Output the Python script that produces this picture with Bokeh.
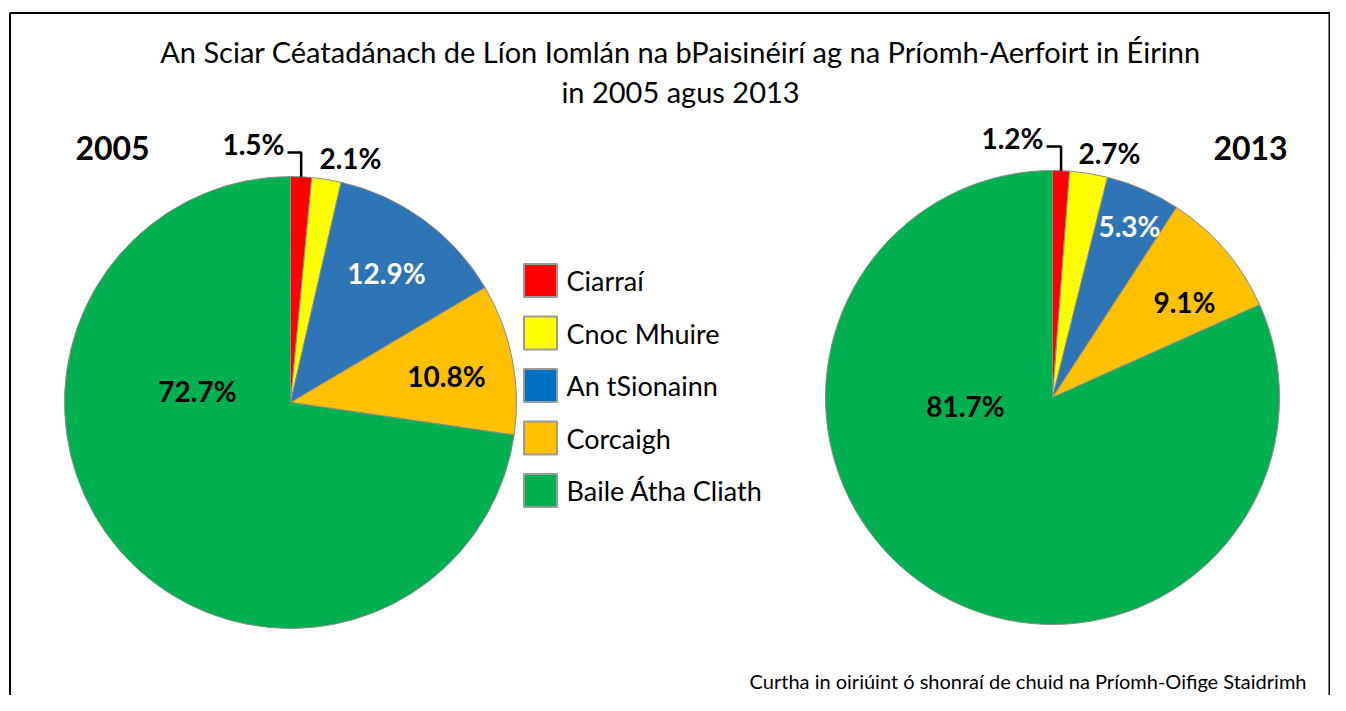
import numpy as np
from bokeh.plotting import figure
from bokeh.models import ColumnDataSource, Range1d
from bokeh.core.properties import value
from bokeh.embed import file_html
from bokeh.resources import INLINE

# ---------------- data ----------------
categories = ["Ciarraí", "Cnoc Mhuire", "An tSionainn", "Corcaigh", "Baile Átha Cliath"]
share_2005 = [1.5, 2.1, 12.9, 10.8, 72.7]
share_2013 = [1.2, 2.7, 5.3, 9.1, 81.7]
years = ["2005", "2013"]
title_lines = ["An Sciar Céatadánach de Líon Iomlán na bPaisinéirí ag na Príomh-Aerfoirt in Éirinn",
               "in 2005 agus 2013"]
source_note = "Curtha in oiriúint ó shonraí de chuid na Príomh-Oifige Staidrimh"

# ---------------- styles / layout ----------------
slice_colors = ["#FF0000", "#FFFF00", "#2E75B6", "#FFC000", "#00B050"]
legend_colors = ["#FF0000", "#FFFF00", "#0070C0", "#FFC000", "#00B050"]
label_colors = ["black", "black", "white", "black", "black"]
FONT = "Lato"
W, H = 1330, 695


def Y(img_y):
    # convert a screen-pixel y (from top) into data y
    return H - img_y


p = figure(width=W, height=H, x_range=Range1d(0, W), y_range=Range1d(0, H),
           output_backend="svg", toolbar_location=None, min_border=0)
p.axis.visible = False
p.grid.visible = False
p.outline_line_color = None
p.background_fill_color = "white"

# frame
p.line(x=[9.5, 9.5, 1329, 1329], y=[Y(720), Y(12.5), Y(12.5), Y(720)],
       line_color="black", line_width=2)

# pies: center (screen px), radius, label offsets (screen px relative to center)
pies = [
    dict(vals=share_2005, cx=290, cy=402, r=226, year_pos=(112, 147),
         offsets=[(-37, -259), (60, -245), (96, -130), (156, -27), (-93, -12)]),
    dict(vals=share_2013, cx=1052, cy=397, r=227, year_pos=(1250, 147),
         offsets=[(-40, -260), (57, -245), (77, -172), (132, -96), (-87, 8)]),
]

for pie, yr in zip(pies, years):
    vals = np.array(pie["vals"], dtype=float)
    frac = vals / vals.sum()
    cum = np.concatenate([[0], np.cumsum(frac)])
    start = np.pi / 2 - 2 * np.pi * cum[:-1]
    end = np.pi / 2 - 2 * np.pi * cum[1:]
    src = ColumnDataSource(dict(start=start, end=end, color=slice_colors,
                                cat=categories, val=vals))
    p.wedge(x=pie["cx"], y=Y(pie["cy"]), radius=pie["r"], start_angle="start", end_angle="end",
            direction="clock", fill_color="color", line_color="#8C8C8C", line_width=1, source=src)

    # labels
    lx = [pie["cx"] + dx for dx, dy in pie["offsets"]]
    ly = [Y(pie["cy"] + dy) for dx, dy in pie["offsets"]]
    txt = [f"{v:.1f}%" for v in vals]
    lsrc = ColumnDataSource(dict(x=lx, y=ly, t=txt, c=label_colors))
    p.text(x="x", y="y", text="t", text_color="c", source=lsrc, text_font=value(FONT),
           text_font_style="bold", text_font_size="28px", text_align="center",
           text_baseline="middle")

    # leader line for the first (small) slice
    mid = 2 * np.pi * (cum[0] + cum[1]) / 2
    ex = pie["cx"] + pie["r"] * np.sin(mid)
    ey_img = pie["cy"] - pie["r"] * np.cos(mid)
    elbow_img = pie["cy"] + pie["offsets"][0][1] + 9
    p.line(x=[lx[0] + 34, ex, ex], y=[Y(elbow_img), Y(elbow_img), Y(ey_img)],
           line_color="black", line_width=2.5)

    # year label
    p.text(x=[pie["year_pos"][0]], y=[Y(pie["year_pos"][1])], text=[yr], text_font=value(FONT),
           text_font_style="bold", text_font_size="32px", text_align="center",
           text_baseline="middle", text_color="black")

# legend
leg_y = [Y(280 + 52.5 * i) for i in range(len(categories))]
p.rect(x=[540] * len(categories), y=leg_y, width=33, height=33, fill_color=legend_colors,
       line_color="#9A9A9A", line_width=2)
p.text(x=[566] * len(categories), y=leg_y, text=categories, text_font=value(FONT),
       text_font_size="27px", text_align="left", text_baseline="middle", text_color="black")

# title
p.text(x=[680, 680], y=[Y(51), Y(91)], text=title_lines, text_font=value(FONT),
       text_font_size="29px", text_align="center", text_baseline="middle", text_color="black")

# source note
p.text(x=[1306], y=[Y(680)], text=[source_note], text_font=value(FONT),
       text_font_size="20px", text_align="right", text_baseline="middle", text_color="black")

open("out.html", "w").write(file_html(p, INLINE))
